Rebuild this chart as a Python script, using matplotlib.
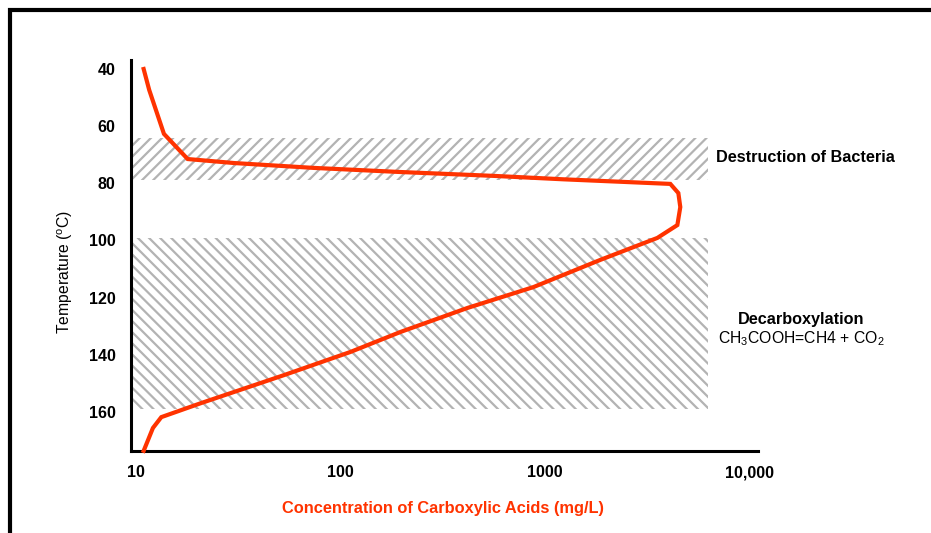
import matplotlib
matplotlib.use('Agg')
import matplotlib.pyplot as plt
from matplotlib.patches import Rectangle

# concentration of carboxylic acids (mg/L) vs temperature (oC)
conc = [10.9, 11.6, 13.7, 17.9, 30.2, 74, 191, 565, 1240, 4120, 4510, 4610,
        4460, 3560, 1870, 881, 419, 197, 112, 53, 20.8, 13.3, 12.1, 10.9]
temp = [40, 47.3, 62.7, 71.5, 72.9, 74.6, 76.0, 77.4, 78.6, 80.2, 83.4, 88.3,
        94.6, 99.1, 106.8, 116.3, 123.6, 132.0, 139.0, 147.1, 156.9, 161.8, 165.6, 173.6]

# shaded temperature zones
zones = [(64, 79), (99, 159)]
zone_hatch = ['///', '\\\\\\']
zone_right = 6300

xticks = [10, 100, 1000, 10000]
xtick_labels = ['10', '100', '1000', '10,000']
yticks = [40, 60, 80, 100, 120, 140, 160]

plt.rcParams['font.family'] = ['Liberation Sans', 'DejaVu Sans']
plt.rcParams['hatch.linewidth'] = 1.6

red = '#ff3300'
W, H = 931, 533
fig = plt.figure(figsize=(W / 100, H / 100), dpi=100)
ax = fig.add_axes([131 / W, 1 - 451 / H, (758 - 131) / W, (451 - 60) / H])

xmin, xmax = 10 ** 0.9755, 10 ** 4.044
ax.set_xscale('log')
ax.set_xlim(xmin, xmax)
ax.set_ylim(173.65, 36.85)

for (y0, y1), h in zip(zones, zone_hatch):
    ax.fill_betweenx([y0, y1], xmin, zone_right, facecolor='none',
                     edgecolor='#b3b3b3', hatch=h, linewidth=0, zorder=1)

ax.plot(conc, temp, color=red, lw=3, solid_joinstyle='miter', zorder=3, clip_on=False)

ax.set_xticks(xticks)
ax.set_xticklabels(xtick_labels)
ax.xaxis.set_minor_locator(matplotlib.ticker.NullLocator())
ax.set_yticks(yticks)
ax.tick_params(length=0, labelsize=11.5)
ax.tick_params(axis='y', pad=11)
ax.tick_params(axis='x', pad=19)
for lab in ax.get_xticklabels():
    lab.set_fontweight('bold')
    lab.set_verticalalignment('baseline')
for lab in ax.get_yticklabels():
    lab.set_fontweight('bold')

for s in ['top', 'right']:
    ax.spines[s].set_visible(False)
for s in ['left', 'bottom']:
    ax.spines[s].set_linewidth(2.2)

ax.set_ylabel(r'Temperature ($\mathregular{^{o}}$C)', fontsize=11.3)
ax.yaxis.set_label_coords(-0.089, 0.458)
ax.set_xlabel('Concentration of Carboxylic Acids (mg/L)', color=red,
              fontsize=11.8, fontweight='bold')
ax.xaxis.set_label_coords(0.498, -0.128)

ax.text(6900, 71.1, 'Destruction of Bacteria', fontsize=11.7, fontweight='bold',
        va='center', ha='left', clip_on=False)
ax.text(18000, 127.5, 'Decarboxylation', fontsize=11.7, fontweight='bold',
        va='center', ha='center', clip_on=False)
ax.text(18000, 134.3, r'CH$\mathregular{_3}$COOH=CH4 + CO$\mathregular{_2}$',
        fontsize=11.3, va='center', ha='center', clip_on=False)

# black frame (top and left edges visible)
fig.add_artist(Rectangle((10 / W, -0.5), 2, 0.5 + (H - 10) / H, transform=fig.transFigure,
                         fill=False, edgecolor='black', lw=3))

fig.savefig('out.png', dpi=100)
